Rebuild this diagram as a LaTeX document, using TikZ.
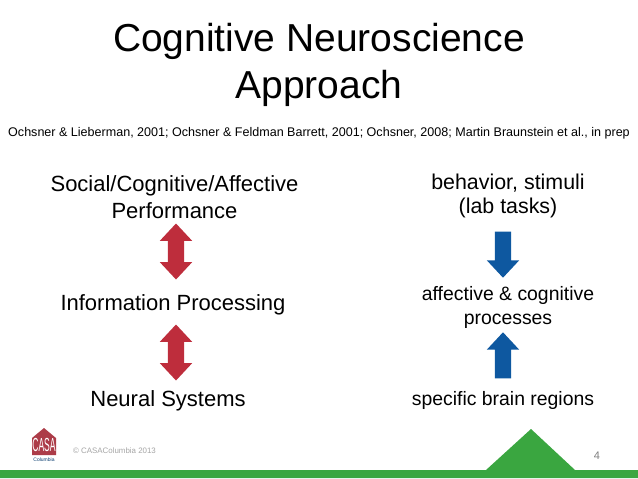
\documentclass[tikz,border=0pt]{standalone}
\usepackage{fontspec}
\setmainfont{Liberation Sans}
\usetikzlibrary{shapes.arrows, shapes.geometric, positioning}
\definecolor{casagreen}{RGB}{58, 166, 64}
\definecolor{casared}{RGB}{190, 45, 60}
\definecolor{casablue}{RGB}{14, 88, 160}
\definecolor{logored}{RGB}{172, 60, 72}

\begin{document}
\begin{tikzpicture}[
    x=1pt, y=-1pt,
    titletext/.style={font=\fontsize{39}{47}\selectfont, align=center, inner sep=0pt},
    bodytext/.style={font=\fontsize{22}{27}\selectfont, align=center, inner sep=0pt},
    righttext/.style={font=\fontsize{19.4}{24}\selectfont, align=center, inner sep=0pt},
    redarrow/.style={double arrow, draw=none, fill=casared, rotate=90, inner xsep=0pt, inner ysep=8pt, minimum height=56pt, double arrow head extend=8pt, double arrow tip angle=86},
    bluearrow/.style={single arrow, draw=none, fill=casablue, inner xsep=0pt, inner ysep=8pt, minimum height=46pt, single arrow head extend=8pt, single arrow tip angle=86, anchor=tip}
  ]
  \useasboundingbox (0,0) rectangle (638,479);
  \fill[white] (0,0) rectangle (638,479);

  % Green footer
  \fill[casagreen] (0,470) -- (486,470) -- (531,429) -- (575,470) -- (638,470) -- (638,478) -- (0,478) -- cycle;

  % Title and references
  \node[titletext] (title) at (319,65) {Cognitive Neuroscience\\Approach};
  \node[font=\fontsize{12.55}{15}\selectfont, inner sep=0pt] (refs) at (319,133.5) {Ochsner \& Lieberman, 2001; Ochsner \& Feldman Barrett, 2001; Ochsner, 2008; Martin Braunstein et al., in prep};

  % Left column
  \node[bodytext] (performance) at (174.5,197.5) {Social/Cognitive/Affective\\Performance};
  \node[redarrow] (upperred) at (176,251.5) {};
  \node[bodytext] (information) at (173,305) {Information Processing};
  \node[redarrow] (lowerred) at (176,352.5) {};
  \node[bodytext] (neural) at (168,401) {Neural Systems};

  % Right column
  \node[righttext, font=\fontsize{21.4}{24}\selectfont] (behavior) at (508,196) {behavior, stimuli\\(lab tasks)};
  \node[bluearrow, rotate=-90] (downblue) at (503,278) {};
  \node[righttext] (affective) at (508,307.5) {affective \& cognitive\\processes};
  \node[bluearrow, rotate=90] (upblue) at (503,332) {};
  \node[righttext] (regions) at (503,400) {specific brain regions};

  % Logo
  \fill[logored] (32,455) -- (32,438) -- (44,428) -- (56,438) -- (56,455) -- cycle;
  \node[font=\fontsize{9}{9}\selectfont, white, xscale=0.95, yscale=2.1, inner sep=0pt] (logotext) at (44,445) {CASA};
  \node[font=\fontsize{5}{6}\selectfont, casablue!70!black, inner sep=0pt] (logosub) at (44,460) {Columbia};

  % Footer texts
  \node[font=\fontsize{7.9}{10}\selectfont, black!35, anchor=west, inner sep=0pt] (copyright) at (73,451) {© CASAColumbia 2013};
  \node[font=\fontsize{11}{12}\selectfont, black!50, inner sep=0pt] (pagenum) at (597,456) {4};
\end{tikzpicture}
\end{document}
